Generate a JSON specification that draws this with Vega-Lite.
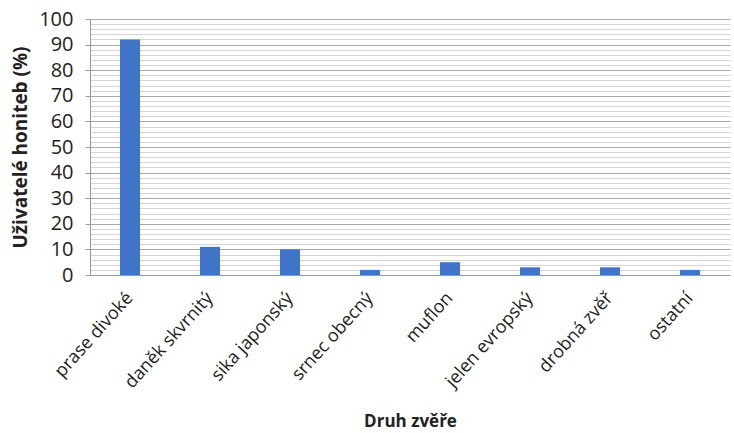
{
  "$schema": "https://vega.github.io/schema/vega-lite/v6.json",
  "width": 640,
  "height": 256,
  "autosize": "none",
  "padding": {"left": 90, "top": 19, "right": 4, "bottom": 158},
  "background": "white",
  "config": {
    "font": "Lato",
    "view": {"stroke": null}
  },
  "data": {
    "values": [
      {"druh": "prase divoké", "pct": 92},
      {"druh": "daněk skvrnitý", "pct": 11},
      {"druh": "sika japonský", "pct": 10},
      {"druh": "srnec obecný", "pct": 2},
      {"druh": "muflon", "pct": 5},
      {"druh": "jelen evropský", "pct": 3},
      {"druh": "drobná zvěř", "pct": 3},
      {"druh": "ostatní", "pct": 2}
    ]
  },
  "mark": {"type": "bar", "color": "#3f74c6"},
  "encoding": {
    "x": {
      "field": "druh",
      "type": "nominal",
      "sort": null,
      "scale": {"paddingInner": 0.75, "paddingOuter": 0.375},
      "axis": {
        "title": "Druh zvěře",
        "titleFont": "Open Sans",
        "titleFontSize": 17,
        "titleFontWeight": "bold",
        "titleColor": "#222",
        "titlePadding": 22,
        "labelAngle": -48,
        "labelAlign": "right",
        "labelBaseline": "middle",
        "labelFont": "Open Sans",
        "labelFontSize": 18,
        "labelColor": "#222",
        "labelPadding": 20,
        "ticks": false,
        "domainColor": "#999",
        "grid": false
      }
    },
    "y": {
      "field": "pct",
      "type": "quantitative",
      "scale": {"domain": [0, 100], "nice": false},
      "axis": {
        "title": "Uživatelé honiteb  (%)",
        "titleFont": "Open Sans",
        "titleFontSize": 19,
        "titleFontWeight": "bold",
        "titleColor": "#222",
        "titlePadding": 8,
        "values": [0, 2, 4, 6, 8, 10, 12, 14, 16, 18, 20, 22, 24, 26, 28, 30, 32, 34, 36, 38, 40, 42, 44, 46, 48, 50, 52, 54, 56, 58, 60, 62, 64, 66, 68, 70, 72, 74, 76, 78, 80, 82, 84, 86, 88, 90, 92, 94, 96, 98, 100],
        "labelExpr": "datum.value % 10 === 0 ? datum.label : ''",
        "labelFont": "Open Sans",
        "labelFontSize": 20,
        "labelColor": "#222",
        "labelPadding": 12,
        "tickSize": 5,
        "tickColor": "#999",
        "tickOpacity": {"condition": {"test": "datum.value % 10 === 0", "value": 1}, "value": 0},
        "domainColor": "#999",
        "grid": true,
        "gridColor": {"condition": {"test": "datum.value % 10 === 0", "value": "#a8a8a8"}, "value": "#d4d4d4"},
        "gridOpacity": 1,
        "gridWidth": 1
      }
    }
  }
}
